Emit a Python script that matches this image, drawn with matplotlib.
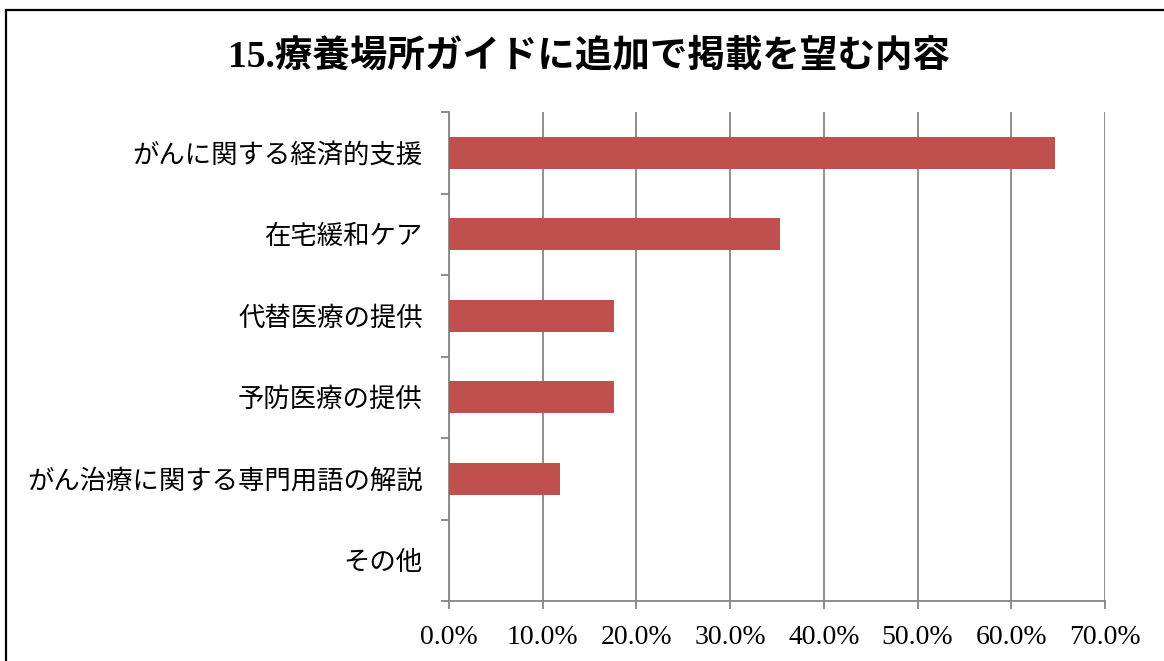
import numpy as np
import matplotlib
matplotlib.use("Agg")
import matplotlib.pyplot as plt
from matplotlib.patches import Rectangle
from matplotlib.ticker import FixedLocator, FuncFormatter

# data
categories = ["がんに関する経済的支援", "在宅緩和ケア", "代替医療の提供",
              "予防医療の提供", "がん治療に関する専門用語の解説", "その他"]
percent = [64.7, 35.3, 17.6, 17.6, 11.8, 0.0]
x_ticks = [0, 10, 20, 30, 40, 50, 60, 70]
title = "15.療養場所ガイドに追加で掲載を望む内容"

fonts = ["Liberation Serif", "Noto Sans CJK JP", "DejaVu Sans"]
plt.rcParams["font.family"] = fonts

bar_color = "#C0504D"
grid_color = "#868686"

fig = plt.figure(figsize=(11.64, 6.61), dpi=100)
ax = fig.add_axes([449 / 1164, 1 - 601 / 661, (1105 - 449) / 1164, (601 - 112) / 661])

y = np.arange(len(categories))
ax.barh(y, percent, height=0.39, color=bar_color, zorder=3)

ax.set_xlim(0, 70)
ax.set_ylim(len(categories) - 0.5, -0.5)

ax.set_xticks(x_ticks)
ax.xaxis.set_major_formatter(FuncFormatter(lambda v, p: f"{v:.1f}%"))
ax.grid(axis="x", color=grid_color, linewidth=1.3, zorder=0)
ax.tick_params(axis="x", length=6, width=1.3, color=grid_color,
               labelsize=20, pad=11)

# category boundaries as ticks, names on minor ticks
ax.yaxis.set_major_locator(FixedLocator(np.arange(-0.5, len(categories), 1.0)))
ax.yaxis.set_major_formatter(FuncFormatter(lambda v, p: ""))
ax.yaxis.set_minor_locator(FixedLocator(y))
ax.set_yticklabels(categories, minor=True)
ax.tick_params(axis="y", which="major", length=6, width=1.3, color=grid_color)
ax.tick_params(axis="y", which="minor", length=0, labelsize=19, pad=19)

for side in ["top", "right"]:
    ax.spines[side].set_visible(False)
for side in ["left", "bottom"]:
    ax.spines[side].set_color(grid_color)
    ax.spines[side].set_linewidth(1.3)

fig.text(589 / 1164, 1 - 57 / 661, title, ha="center", va="center",
         fontsize=27, fontweight="bold")

# outer frame (cut off at right/bottom like the source)
fig.patches.append(Rectangle((6 / 1164, -0.1), 1.2, 1.1 - 10 / 661,
                             transform=fig.transFigure, fill=False,
                             edgecolor="black", linewidth=1.6))

fig.savefig("out.png", dpi=100)
